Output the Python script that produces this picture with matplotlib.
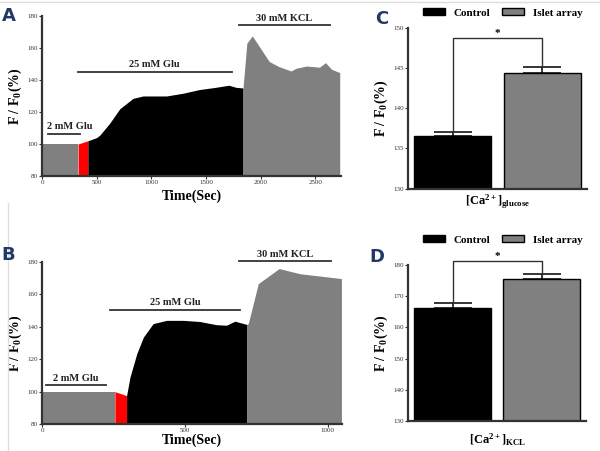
import matplotlib
matplotlib.use("Agg")
import matplotlib.pyplot as plt
from matplotlib.patches import Patch
from matplotlib.lines import Line2D

plt.rcParams['font.family'] = ['Liberation Serif', 'DejaVu Serif']
plt.rcParams['mathtext.fontset'] = 'custom'
plt.rcParams['mathtext.rm'] = 'Liberation Serif:bold'
plt.rcParams['mathtext.bf'] = 'Liberation Serif:bold'
plt.rcParams['mathtext.it'] = 'Liberation Serif:bold'

# ---- panel A trace (time in s, F/F0 in %)
a_base_t = [0, 330]
a_base_v = [100, 100]
a_red_t = [330, 420]
a_red_v = [100, 102]
a_glu_t = [420, 500, 530, 620, 712, 833, 925, 1140, 1290, 1440, 1590, 1710, 1775, 1840]
a_glu_v = [102, 104, 105.6, 113, 122, 128.5, 130, 130, 131.7, 134, 135.4, 136.7, 135.4, 135]
a_kcl_t = [1840, 1875, 1925, 2080, 2170, 2280, 2325, 2420, 2540, 2595, 2650, 2725]
a_kcl_v = [135, 163, 167.5, 151.5, 148.3, 145.6, 147.3, 148.7, 148, 150.8, 146.7, 144.6]

# ---- panel B trace
b_base_t = [0, 255]
b_base_v = [100, 100]
b_red_t = [255, 296]
b_red_v = [100, 97.5]
b_glu_t = [296, 308, 332, 355, 389, 436, 494, 552, 611, 646, 675, 716]
b_glu_v = [97.5, 109, 123.6, 133.7, 142, 144, 144, 143.3, 141.3, 141, 143.5, 141.5]
b_kcl_t = [716, 722, 757, 830, 903, 1048]
b_kcl_v = [141.5, 142, 166.7, 176, 172.8, 169.8]

# ---- bar panels
groups = ['Control', 'Islet array']
c_means = [136.5, 144.4]
c_err = [0.5, 0.8]
d_means = [166.2, 175.6]
d_err = [1.5, 1.5]

GRAY = '#808080'
BLUE = '#1f3a68'

fig = plt.figure(figsize=(6, 4.51), dpi=100)


def style(ax):
    for s in ['top', 'right']:
        ax.spines[s].set_visible(False)
    for s in ['left', 'bottom']:
        ax.spines[s].set_linewidth(1.6)
        ax.spines[s].set_color('#333333')
    ax.tick_params(labelsize=5, length=2, width=0.8, pad=1, colors='#333333')


def trace(ax, base, red, glu, kcl):
    ax.fill_between(base[0], base[1], 80, color=GRAY, lw=0)
    ax.fill_between(red[0], red[1], 80, color='#ff0000', lw=0)
    ax.fill_between(glu[0], glu[1], 80, color='black', lw=0)
    ax.fill_between(kcl[0], kcl[1], 80, color=GRAY, lw=0)


def label_bar(ax, x0, x1, y, txt, dy, tx=None):
    ax.plot([x0, x1], [y, y], color='#333333', lw=1.3, clip_on=False)
    if tx is None:
        tx = (x0 + x1) / 2
    ax.text(tx, y + dy, txt, ha='center', va='bottom', fontsize=7.5,
            fontweight='bold', color='#222222', clip_on=False)


# Panel A
axA = fig.add_axes([0.07, 0.6098, 0.498, 0.3548])
trace(axA, (a_base_t, a_base_v), (a_red_t, a_red_v), (a_glu_t, a_glu_v), (a_kcl_t, a_kcl_v))
axA.set_xlim(0, 2735)
axA.set_ylim(80, 180)
axA.set_xticks([0, 500, 1000, 1500, 2000, 2500])
axA.set_yticks([80, 100, 120, 140, 160, 180])
style(axA)
axA.set_xlabel('Time(Sec)', fontsize=10, fontweight='bold', labelpad=3)
axA.set_ylabel('F / F$_\\mathbf{0}$(%)', fontsize=10, fontweight='bold', labelpad=2)
label_bar(axA, 55, 350, 106.3, '2 mM Glu', 1.5, tx=255)
label_bar(axA, 325, 1740, 145.2, '25 mM Glu', 1.5)
label_bar(axA, 1800, 2640, 174.4, '30 mM KCL', 1.5)

# Panel B
axB = fig.add_axes([0.07, 0.0599, 0.5, 0.359])
trace(axB, (b_base_t, b_base_v), (b_red_t, b_red_v), (b_glu_t, b_glu_v), (b_kcl_t, b_kcl_v))
axB.set_xlim(0, 1050)
axB.set_ylim(80, 180)
axB.set_xticks([0, 500, 1000])
axB.set_yticks([80, 100, 120, 140, 160, 180])
style(axB)
axB.set_xlabel('Time(Sec)', fontsize=10, fontweight='bold', labelpad=0)
axB.set_ylabel('F / F$_\\mathbf{0}$(%)', fontsize=10, fontweight='bold', labelpad=2)
label_bar(axB, 13, 224, 103.9, '2 mM Glu', 1.5)
label_bar(axB, 238, 693, 150.6, '25 mM Glu', 1.5)
label_bar(axB, 690, 1010, 180.6, '30 mM KCL', 1.5)


def bars(ax, means, errs, ylim, yticks, bracket_y, xlabel, pad):
    x = [0, 1]
    ax.bar(x, means, width=0.86, color=['black', GRAY], edgecolor='black', lw=1.0)
    for xi, m, e in zip(x, means, errs):
        ax.errorbar(xi, m, yerr=[[0], [e]], color='black', lw=1.1, capsize=13.5, capthick=1.1)
    ax.set_xlim(-0.5, 1.5)
    ax.set_ylim(*ylim)
    ax.set_yticks(yticks)
    ax.set_xticks([])
    style(ax)
    ax.set_ylabel('F / F$_\\mathbf{0}$(%)', fontsize=10, fontweight='bold', labelpad=2)
    ax.set_xlabel(xlabel, fontsize=9, fontweight='bold', labelpad=pad)
    tops = [m + e for m, e in zip(means, errs)]
    ax.plot([0, 0, 1, 1], [tops[0], bracket_y, bracket_y, tops[1]], color='#333333', lw=1.0, clip_on=False)
    ax.text(0.5, bracket_y, '*', ha='center', va='bottom', fontsize=8, fontweight='bold', clip_on=False)


axC = fig.add_axes([0.68, 0.582, 0.298, 0.355])
bars(axC, c_means, c_err, (130, 150), [130, 135, 140, 145, 150], 148.8,
     '[Ca$^{2+}$]$_{glucose}$', 3)

axD = fig.add_axes([0.68, 0.0665, 0.2967, 0.346])
bars(axD, d_means, d_err, (130, 180), [130, 140, 150, 160, 170, 180], 181.2,
     '[Ca$^{2+}$]$_{KCL}$', 8)

handles = [Patch(facecolor='black', edgecolor='black'), Patch(facecolor=GRAY, edgecolor='black')]
for yy in [0.971, 0.468]:
    fig.legend(handles, groups, loc='center', bbox_to_anchor=(0.838, yy), ncol=2, frameon=False,
               prop={'weight': 'bold', 'size': 8}, handlelength=2.0, handleheight=0.6,
               columnspacing=1.0, handletextpad=0.8)

for lbl, x, y in [('A', 0.003, 0.965), ('B', 0.003, 0.435), ('C', 0.625, 0.958), ('D', 0.615, 0.43)]:
    fig.text(x, y, lbl, fontsize=13, fontweight='bold', color=BLUE, family='DejaVu Sans',
             ha='left', va='center')

# faint outer frame
fig.add_artist(Line2D([0.0, 1.0], [0.996, 0.996], color='#dddddd', lw=1.0))
fig.add_artist(Line2D([0.014, 0.014], [0.0, 0.55], color='#dddddd', lw=1.0))

fig.savefig('out.png', dpi=100)
